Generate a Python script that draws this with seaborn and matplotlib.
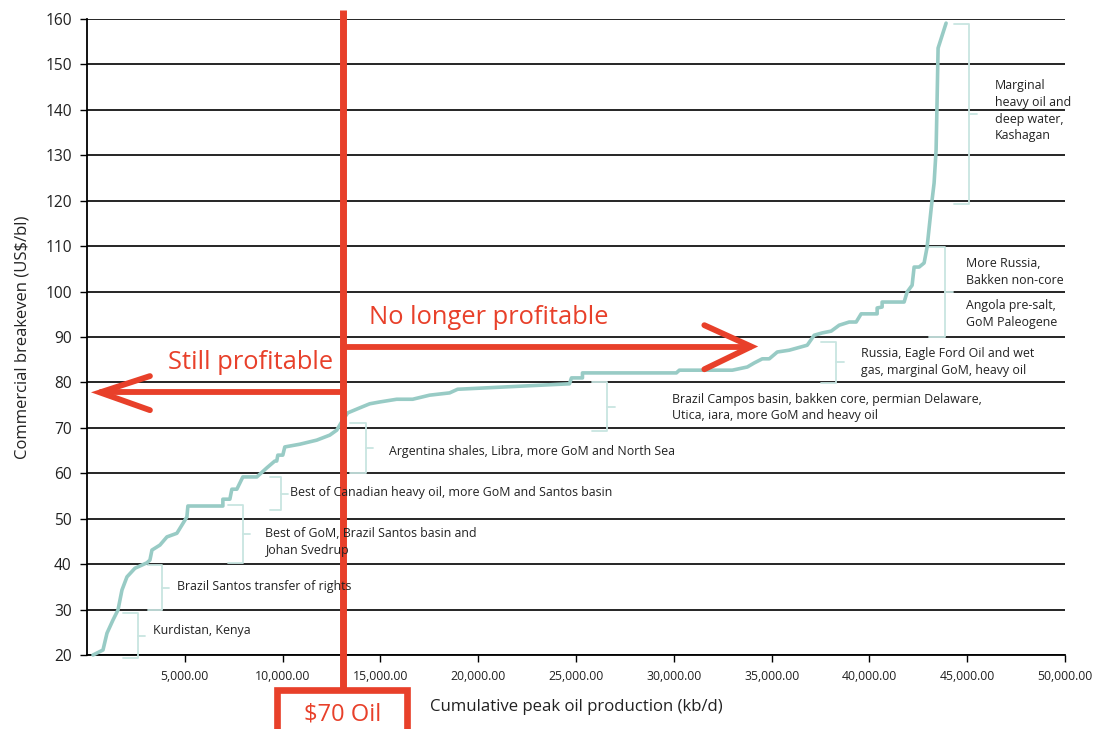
import matplotlib
matplotlib.use("Agg")
import matplotlib.pyplot as plt
import seaborn as sns
import pandas as pd
from matplotlib.patches import Rectangle

# =========================
# DATA
# =========================
cum_prod = [306, 817, 1021, 1328, 1583, 1787, 2043, 2451, 3064, 3217, 3320, 3728,
            4086, 4596, 4852, 5107, 5158, 6946, 6946, 7303, 7405, 7661, 7967, 8682,
            9193, 9601, 9700, 9755, 10010, 10112, 10878, 11746, 12410, 12768, 13074,
            13329, 13942, 14453, 14963, 15832, 16649, 17517, 18538, 18946, 22267,
            24666, 24768, 25330, 25330, 30131, 30284, 32991, 33757, 34115, 34523,
            34880, 35289, 35901, 36822, 37178, 37586, 38046, 38455, 38966, 39323,
            39578, 40395, 40395, 40650, 40650, 41774, 41927, 42183, 42285, 42540,
            42796, 42949, 43205, 43307, 43409, 43460, 43511, 43920]
breakeven = [20, 21.1, 24.8, 27.7, 29.9, 34.3, 37.2, 39.1, 40.3, 40.9, 43.1, 44.2,
             46, 46.8, 48.6, 50.4, 52.8, 52.8, 54.3, 54.3, 56.5, 56.5, 59.2, 59.2,
             61.2, 62.7, 62.7, 64, 64, 65.8, 66.4, 67.3, 68.4, 69.5, 71.7,
             73.3, 74.4, 75.3, 75.7, 76.3, 76.3, 77.2, 77.7, 78.5, 79.2,
             79.7, 81, 81, 82.1, 82.1, 82.7, 82.7, 83.4, 84.3, 85.2,
             85.2, 86.7, 87.1, 88.2, 90.4, 90.9, 91.3, 92.6, 93.3, 93.3,
             95.1, 95.1, 96.4, 96.6, 97.7, 97.7, 99.9, 101.4, 105.4, 105.4,
             106.3, 109.8, 120.2, 123.9, 131.2, 142.2, 153.6, 159.1]

# bracket groups (top, bottom, x of bracket spine, x of left end)
bracket_top = [29.2, 39.8, 53.0, 59.2, 71.0, 80.1, 88.9, 109.8, 158.9]
bracket_bottom = [19.3, 29.9, 40.2, 51.9, 60.0, 69.3, 79.9, 90.0, 119.3]
bracket_x = [2605, 3830, 7967, 9908, 14249, 26608, 38302, 43869, 45095]
bracket_left = [1839, 3115, 7200, 9346, 13431, 25842, 37535, 43051, 44329]

group_labels = ["Kurdistan, Kenya",
                "Brazil Santos transfer of rights",
                "Best of GoM, Brazil Santos basin and\nJohan Svedrup",
                "Best of Canadian heavy oil, more GoM and Santos basin",
                "Argentina shales, Libra, more GoM and North Sea",
                "Brazil Campos basin, bakken core, permian Delaware,\nUtica, iara, more GoM and heavy oil",
                "Russia, Eagle Ford Oil and wet\ngas, marginal GoM, heavy oil",
                "More Russia,\nBakken non-core",
                "Angola pre-salt,\nGoM Paleogene",
                "Marginal\nheavy oil and\ndeep water,\nKashagan"]
label_x = [3370, 4596, 9090, 10367, 15424, 29927, 39578, 44941, 44941, 46422]
label_y = [25.3, 35.0, 44.8, 55.7, 64.9, 74.5, 84.5, 104.3, 95.0, 139.8]

x_ticks = [5000, 10000, 15000, 20000, 25000, 30000, 35000, 40000, 45000, 50000]
y_ticks = [20, 30, 40, 50, 60, 70, 80, 90, 100, 110, 120, 130, 140, 150, 160]

oil_price_x = 13074
left_arrow_y = 77.8
right_arrow_y = 87.9

# =========================
# STYLE
# =========================
sns.set_theme(style="white")
plt.rcParams['font.family'] = ['Open Sans', 'DejaVu Sans']

RED = "#e8402a"
TEAL = "#98cbc5"
PALE = "#c8e5e1"
TXT = "#222222"

fig = plt.figure(figsize=(10.93, 7.29), dpi=100)
ax = fig.add_axes([0.0796, 0.1015, 0.8948, 0.8724])

df = pd.DataFrame({"x": cum_prod, "y": breakeven})
sns.lineplot(data=df, x="x", y="y", sort=False, estimator=None, color=TEAL,
             lw=2.6, ax=ax, clip_on=False, zorder=4)

ax.set_xlim(0, 50000)
ax.set_ylim(20, 160)
ax.set_xticks(x_ticks)
ax.set_xticklabels([f"{v:,.2f}" for v in x_ticks], fontsize=8.8, color=TXT)
ax.set_yticks(y_ticks)
ax.set_yticklabels([str(v) for v in y_ticks], fontsize=11.2, color=TXT)
ax.tick_params(axis="both", direction="out", length=5, width=1, color="black",
               bottom=True, left=True, pad=6)
ax.grid(axis="y", color="black", lw=1.2)
ax.set_axisbelow(True)
for s in ["top", "right"]:
    ax.spines[s].set_visible(False)
for s in ["left", "bottom"]:
    ax.spines[s].set_color("black")
    ax.spines[s].set_linewidth(1.3)
ax.set_xlabel("Cumulative peak oil production (kb/d)", fontsize=12.1, color=TXT)
ax.set_ylabel("Commercial breakeven (US$/bl)", fontsize=12, color=TXT)
ax.xaxis.set_label_coords(0.5, -0.082)
ax.xaxis.label.set_va("center")
ax.yaxis.set_label_coords(-0.066, 0.5)
ax.yaxis.label.set_va("center")

# brackets
for top, bot, bx, lx in zip(bracket_top, bracket_bottom, bracket_x, bracket_left):
    mid = (top + bot) / 2
    ax.plot([lx, bx, bx, lx], [top, top, bot, bot], color=PALE, lw=1.3,
            clip_on=False, zorder=3)
    ax.plot([bx, bx + 380], [mid, mid], color=PALE, lw=1.3, clip_on=False, zorder=3)

for txt, tx, ty in zip(group_labels, label_x, label_y):
    ax.text(tx, ty, txt, fontsize=8.9, color=TXT, va="center", ha="left",
            linespacing=1.38, zorder=9)

# $70 line and arrows
ax.plot([oil_price_x, oil_price_x], [162, 12.3], color=RED, lw=5,
        clip_on=False, zorder=6, solid_capstyle="butt")
ax.plot([oil_price_x, 700], [left_arrow_y, left_arrow_y], color=RED, lw=4.2,
        clip_on=False, zorder=6)
ax.plot([3217, 664, 3217], [81.4, left_arrow_y, 73.9], color=RED, lw=4.2,
        solid_capstyle="round", solid_joinstyle="miter", zorder=6)
ax.plot([oil_price_x, 33900], [right_arrow_y, right_arrow_y], color=RED, lw=4.2, zorder=6)
ax.plot([31561, 33962, 31561], [92.6, right_arrow_y, 82.9], color=RED, lw=4.2,
        solid_capstyle="round", solid_joinstyle="miter", zorder=6)

ax.text(12600, 84.3, "Still profitable", color=RED, fontsize=18.4, ha="right",
        va="center", zorder=6)
ax.text(14400, 94.2, "No longer profitable", color=RED, fontsize=18.4, ha="left",
        va="center", zorder=6)

ax.add_patch(Rectangle((9700, 2.0), 6650, 10.3, fill=True, facecolor="white",
                       edgecolor=RED, lw=4.8, clip_on=False, zorder=7))
ax.text(13074, 6.8, "$70 Oil", color=RED, fontsize=17, ha="center", va="center",
        zorder=8)

fig.savefig("out.png", dpi=100)
